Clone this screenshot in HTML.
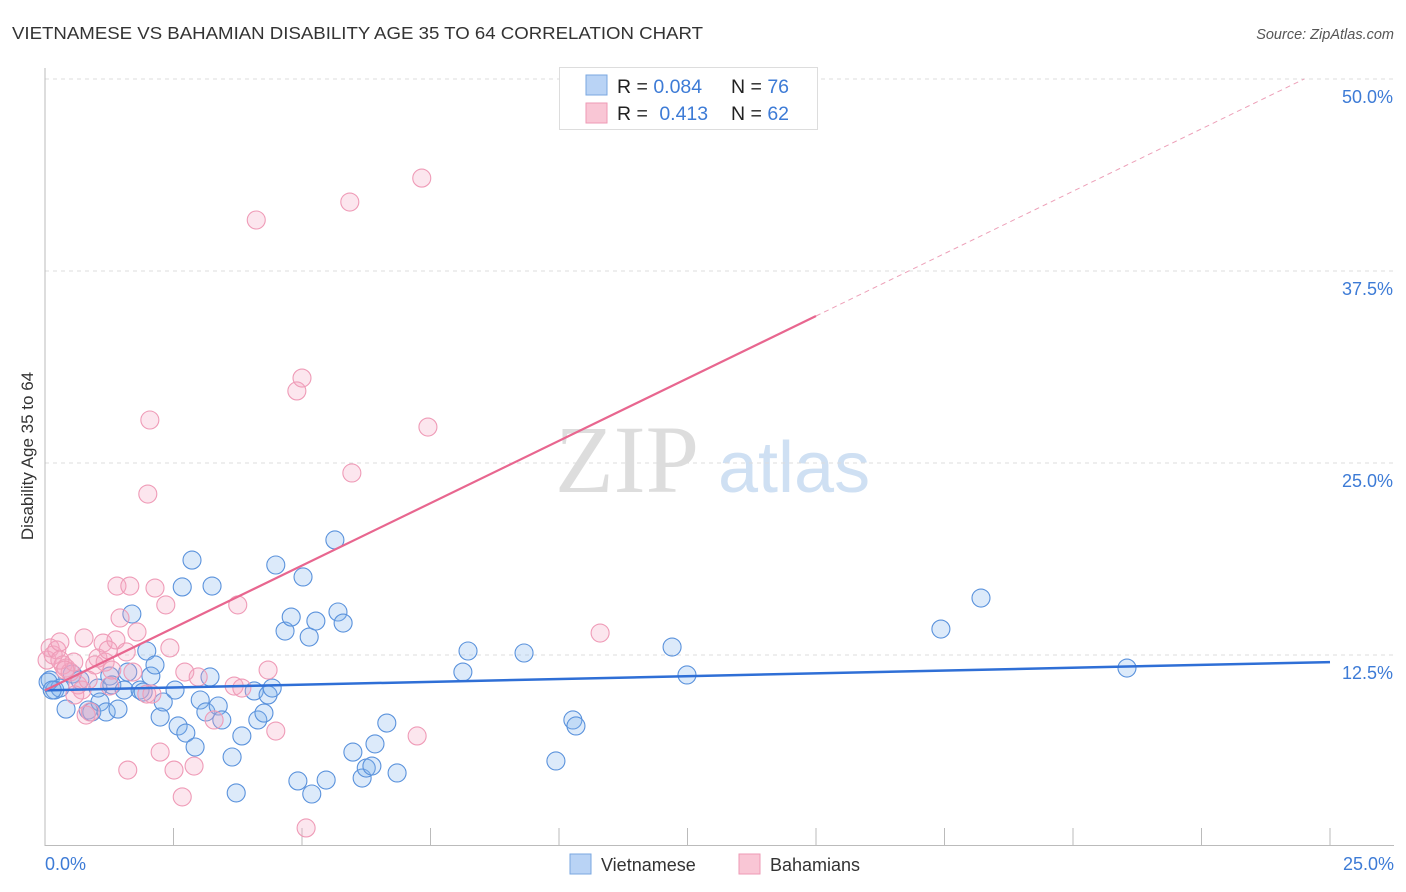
<!DOCTYPE html>
<html><head><meta charset="utf-8"><style>
body{margin:0;background:#fff;font-family:"Liberation Sans",sans-serif;}
svg{display:block}
</style></head><body>
<svg id="chart" width="1406" height="892">
<text x="12" y="39" font-size="17.5" fill="#333" textLength="691" lengthAdjust="spacingAndGlyphs">VIETNAMESE VS BAHAMIAN DISABILITY AGE 35 TO 64 CORRELATION CHART</text>
<text x="1394" y="39" font-size="14.5" fill="#555" font-style="italic" text-anchor="end">Source: ZipAtlas.com</text>
<text transform="translate(33,456) rotate(-90)" font-size="17" fill="#333" text-anchor="middle">Disability Age 35 to 64</text>
<text x="555" y="492" font-size="96" fill="#ddd" font-family="Liberation Serif,serif">ZIP</text>
<text x="718" y="492" font-size="72" fill="#cfe0f3">atlas</text>
<g id="grid"></g><g id="axes"></g><g id="pts"></g><g id="lines"></g>
<g>
<rect x="559.5" y="67.5" width="258" height="62" fill="#fff" stroke="#ddd"/>
<rect x="586" y="75" width="21" height="20" fill="#b9d3f5" stroke="#7aa7e0"/>
<rect x="586" y="103" width="21" height="20" fill="#f9c6d5" stroke="#ee9ab5"/>
<text x="617" y="93" font-size="19.5" fill="#222">R = <tspan fill="#3d7bd6">0.084</tspan></text>
<text x="731" y="93" font-size="19.5" fill="#222">N = <tspan fill="#3d7bd6">76</tspan></text>
<text x="617" y="120" font-size="19.5" fill="#222">R = <tspan fill="#3d7bd6" dx="6">0.413</tspan></text>
<text x="731" y="120" font-size="19.5" fill="#222">N = <tspan fill="#3d7bd6">62</tspan></text>
</g>
<g>
<rect x="570" y="854" width="21" height="20" fill="#b9d3f5" stroke="#7aa7e0"/>
<text x="601" y="871" font-size="18" fill="#333">Vietnamese</text>
<rect x="739" y="854" width="21" height="20" fill="#f9c6d5" stroke="#ee9ab5"/>
<text x="770" y="871" font-size="18" fill="#333">Bahamians</text>
</g>
</svg>
<script>
const blueX=[0.10,0.19,0.29,0.41,0.53,0.68,0.84,0.91,1.03,1.07,1.19,1.26,1.30,1.42,1.54,1.61,1.69,1.85,1.91,1.98,2.06,2.14,2.24,2.30,2.53,2.59,2.67,2.74,2.86,2.92,3.02,3.13,3.21,3.25,3.37,3.44,3.64,3.72,3.83,4.07,4.14,4.26,4.34,4.42,4.49,4.67,4.79,4.92,5.02,5.14,5.19,5.27,5.47,5.64,5.70,5.80,5.99,6.17,6.25,6.36,6.42,6.65,6.85,8.13,8.23,9.32,9.94,10.27,10.33,12.20,12.49,17.43,18.21,21.05,0.06,0.14];
const blueY=[10.87,10.22,10.35,8.98,11.26,10.87,8.92,8.79,10.35,9.44,8.79,11.13,10.55,8.98,10.22,11.39,15.17,10.22,10.09,12.76,11.13,11.85,8.46,9.44,10.22,7.88,16.93,7.42,18.68,6.51,9.57,8.79,11.07,16.99,9.18,8.27,5.86,3.52,7.23,10.16,8.27,8.72,9.90,10.35,18.36,14.06,14.97,4.30,17.58,13.67,3.45,14.71,4.36,19.99,15.30,14.58,6.18,4.49,5.14,5.27,6.71,8.07,4.82,11.39,12.76,12.63,5.60,8.27,7.88,13.02,11.20,14.19,16.21,11.65,10.74,10.22];
const pinkX=[0.04,0.10,0.16,0.23,0.29,0.35,0.41,0.49,0.56,0.64,0.72,0.76,0.80,0.88,0.97,1.03,1.13,1.17,1.26,1.30,1.38,1.40,1.46,1.58,1.61,1.65,1.71,1.79,1.98,2.00,2.04,2.08,2.14,2.24,2.35,2.43,2.51,2.67,2.72,2.90,2.98,3.29,3.68,3.75,3.83,4.11,4.34,4.49,4.90,5.00,5.08,5.93,5.97,7.24,7.33,7.45,10.80,0.29,0.39,0.84,1.23,0.58];
const pinkY=[12.17,12.96,12.50,12.83,13.35,11.85,11.65,11.39,12.04,10.55,10.22,13.61,8.59,8.79,11.85,12.30,13.28,12.04,10.48,11.52,13.48,16.99,14.91,12.70,5.01,16.99,11.39,14.00,9.96,22.98,27.80,9.96,16.86,6.18,15.76,12.96,5.01,3.26,11.39,5.27,11.07,8.27,10.48,15.76,10.35,40.82,11.52,7.55,29.69,30.53,1.24,41.99,24.35,7.23,43.55,27.34,13.93,12.17,11.52,10.87,12.83,9.90];
const yTicks=[12.5,25,37.5,50];
const yTickLabels=["12.5%","25.0%","37.5%","50.0%"];
const xTicks=[2.5,5,7.5,10,12.5,15,17.5,20,22.5,25];
const blueTrend=[10.2,12.04];
const pinkTrend=[10.2,34.57];
const NS="http://www.w3.org/2000/svg";
const X=v=>45+v*51.4, Y=v=>847-v*15.36;
function mk(t,a,p){const e=document.createElementNS(NS,t);for(const k in a)e.setAttribute(k,a[k]);p.appendChild(e);return e;}
const grid=document.getElementById('grid'),axes=document.getElementById('axes'),pts=document.getElementById('pts'),lines=document.getElementById('lines');
yTicks.forEach((v,i)=>{
 const l=mk('line',{x1:45,x2:1394,y1:Y(v),y2:Y(v),stroke:'#ddd','stroke-dasharray':'4,4'},grid);
 
 
 const t=mk('text',{x:1393,y:Y(v)+24,'font-size':18,fill:'#3d7bd6','text-anchor':'end'},grid);
 t.textContent=yTickLabels[i];
 
 
});
const ya=mk('line',{x1:45,x2:45,y1:68,y2:846,stroke:'#bbb'},axes);


const xa=mk('line',{x1:45,x2:1394,y1:845.5,y2:845.5,stroke:'#bbb'},axes);


xTicks.forEach(v=>{
 const t=mk('line',{x1:X(v),x2:X(v),y1:828,y2:845,stroke:'#bbb'},axes);
 
 
});
const x0=mk('text',{x:45,y:870,'font-size':18,fill:'#3d7bd6'},axes);x0.textContent='0.0%';


const x1=mk('text',{x:1394,y:870,'font-size':18,fill:'#3d7bd6','text-anchor':'end'},axes);x1.textContent='25.0%';


blueX.forEach((v,i)=>{
 const c=mk('circle',{cx:X(v),cy:Y(blueY[i]),r:9,fill:'rgba(130,178,238,0.28)',stroke:'#5a92dc','stroke-width':1.1},pts);
 
 
});
pinkX.forEach((v,i)=>{
 const c=mk('circle',{cx:X(v),cy:Y(pinkY[i]),r:9,fill:'rgba(245,165,195,0.28)',stroke:'#ef9bb7','stroke-width':1.1},pts);
 
 
});
const bl=mk('line',{x1:X(0),y1:Y(blueTrend[0]),x2:X(25),y2:Y(blueTrend[1]),stroke:'#2f6fd6','stroke-width':2.5},lines);


const slope=(pinkTrend[1]-pinkTrend[0])/15;
const pl=mk('line',{x1:X(0),y1:Y(pinkTrend[0]),x2:X(15),y2:Y(pinkTrend[1]),stroke:'#e8668f','stroke-width':2.2},lines);


const xe=24.5;
const pd=mk('line',{x1:X(15),y1:Y(pinkTrend[1]),x2:X(xe),y2:Y(pinkTrend[0]+slope*xe),stroke:'#eda0b8','stroke-width':1,'stroke-dasharray':'5,4'},lines);


</script>
</body></html>
